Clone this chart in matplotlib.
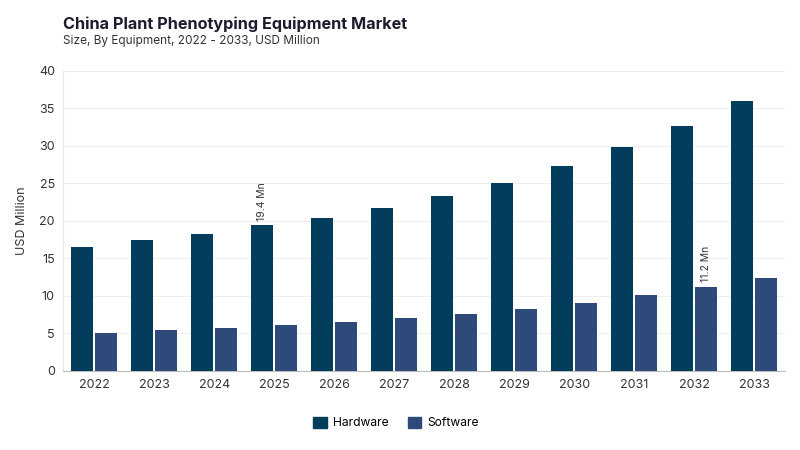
import numpy as np
import matplotlib.pyplot as plt

years = ['2022', '2023', '2024', '2025', '2026', '2027', '2028', '2029', '2030', '2031', '2032', '2033']
hardware = [16.5, 17.5, 18.3, 19.4, 20.4, 21.7, 23.3, 25.1, 27.3, 29.8, 32.7, 36.0]
software = [5.1, 5.5, 5.7, 6.1, 6.5, 7.0, 7.6, 8.3, 9.1, 10.1, 11.2, 12.4]

hw_color = '#023e5c'
sw_color = '#2e4a7b'

plt.rcParams['font.family'] = ['Inter', 'DejaVu Sans']

fig = plt.figure(figsize=(8, 4.5), dpi=100)
ax = fig.add_axes([0.079, 0.1756, 0.9025, 0.6667])

x = np.arange(len(years))
w = 0.367
ax.bar(x - 0.2, hardware, w, color=hw_color, zorder=3)
ax.bar(x + 0.2, software, w, color=sw_color, zorder=3)

ax.set_xlim(-0.52, len(years) - 0.48)
ax.set_ylim(0, 40)
ax.set_yticks(range(0, 41, 5))
ax.set_xticks(x)
ax.set_xticklabels(years)
ax.tick_params(axis='both', length=0, labelsize=9, colors='#333333', pad=6)
ax.grid(axis='y', color='#eeeeee', linewidth=0.8, zorder=0)
for s in ['top', 'right']:
    ax.spines[s].set_visible(False)
ax.spines['left'].set_color('#e6e6e6')
ax.spines['bottom'].set_color('#bbbbbb')
ax.set_ylabel('USD Million', fontsize=9, color='#333333', labelpad=8)

# value labels
ax.text(x[3] - 0.2, hardware[3] + 0.6, '19.4 Mn', rotation=90, ha='center', va='bottom',
        fontsize=7.5, color='#333333')
ax.text(x[10] + 0.2, software[10] + 0.6, '11.2 Mn', rotation=90, ha='center', va='bottom',
        fontsize=7.5, color='#333333')

fig.text(0.079, 0.947, 'China Plant Phenotyping Equipment Market', fontsize=11.7,
         fontweight='bold', color='#1c1c2e', va='center')
fig.text(0.079, 0.908, 'Size, By Equipment, 2022 - 2033, USD Million', fontsize=8.5,
         color='#333333', va='center')

handles = [plt.Rectangle((0, 0), 1, 1, color=hw_color), plt.Rectangle((0, 0), 1, 1, color=sw_color)]
fig.legend(handles, ['Hardware', 'Software'], loc='center', bbox_to_anchor=(0.495, 0.06),
           ncol=2, frameon=False, fontsize=8.7, handlelength=1.1, handleheight=1.1,
           columnspacing=1.6, handletextpad=0.5)

fig.savefig('out.png', dpi=100)
